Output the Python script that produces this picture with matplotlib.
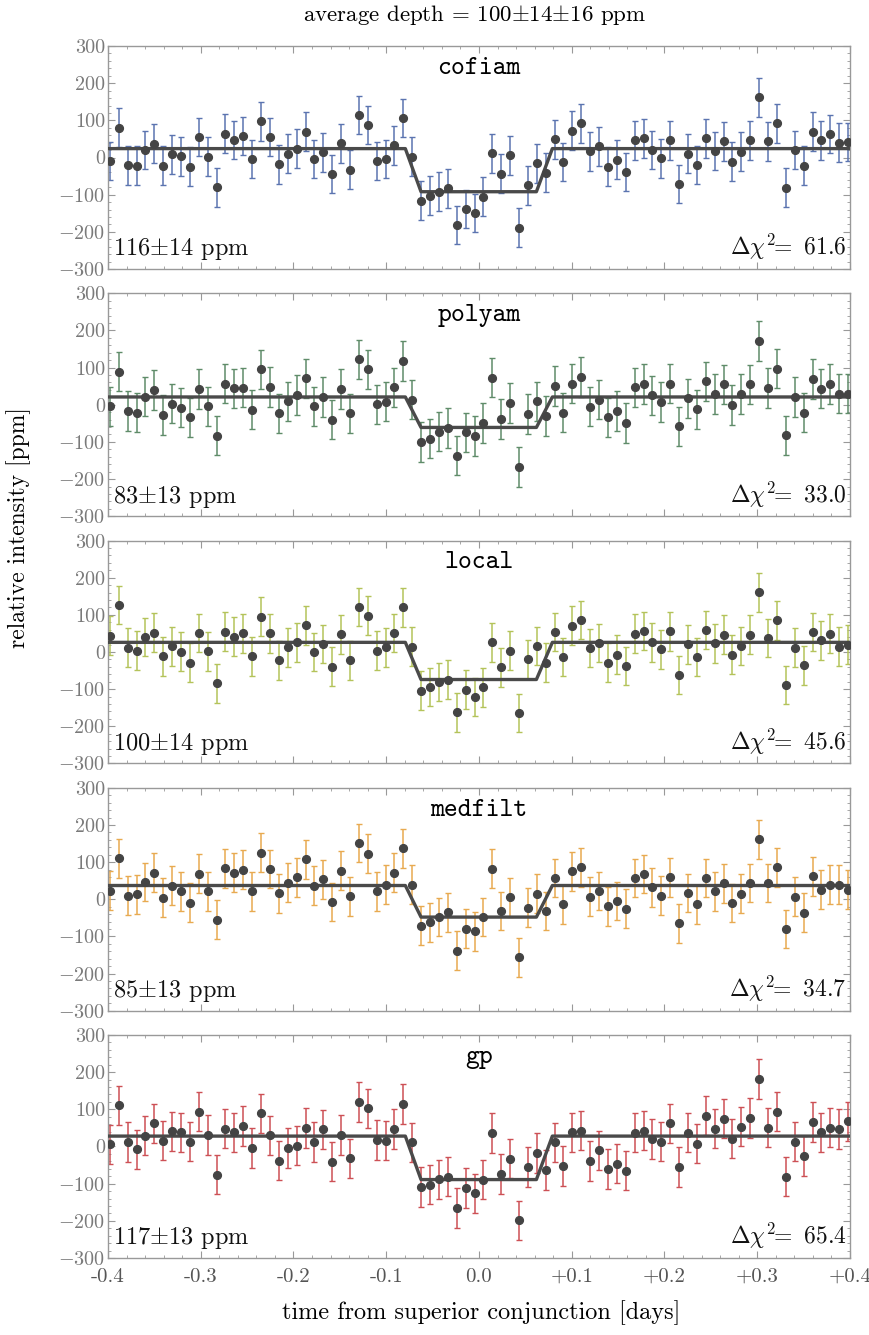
import matplotlib
matplotlib.use("Agg")
import matplotlib.pyplot as plt
from matplotlib.ticker import MultipleLocator, FixedLocator

plt.rcParams['mathtext.fontset'] = 'cm'
plt.rcParams['font.family'] = ['cmr10', 'DejaVu Serif']
plt.rcParams['axes.unicode_minus'] = False

# ---------------- data ----------------
time = [-0.3980, -0.3884, -0.3788, -0.3692, -0.3596, -0.3500, -0.3405, -0.3309, -0.3213, -0.3117,
        -0.3021, -0.2925, -0.2829, -0.2733, -0.2637, -0.2541, -0.2446, -0.2350, -0.2254, -0.2158,
        -0.2062, -0.1966, -0.1870, -0.1774, -0.1678, -0.1582, -0.1486, -0.1391, -0.1295, -0.1199,
        -0.1103, -0.1007, -0.0911, -0.0815, -0.0719, -0.0623, -0.0527, -0.0432, -0.0336, -0.0240,
        -0.0144, -0.0048, 0.0048, 0.0144, 0.0240, 0.0336, 0.0432, 0.0527, 0.0623, 0.0719,
        0.0815, 0.0911, 0.1007, 0.1103, 0.1199, 0.1295, 0.1391, 0.1486, 0.1582, 0.1678,
        0.1774, 0.1870, 0.1966, 0.2062, 0.2158, 0.2254, 0.2350, 0.2446, 0.2541, 0.2637,
        0.2733, 0.2829, 0.2925, 0.3021, 0.3117, 0.3213, 0.3309, 0.3405, 0.3500, 0.3596,
        0.3692, 0.3788, 0.3884, 0.3980]

cofiam = [-9, 80, -21, -22, 20, 37, -22, 9, 3, -25, 55, 2, -80, 64, 47, 58, -4, 97, 55, -18,
          10, 24, 70, -4, 14, -44, 38, -33, 114, 88, -9, -4, 33, 106, 2, -116, -103, -92, -83, -182,
          -139, -149, -105, 11, -43, 6, -189, -75, -16, -41, 49, -12, 72, 92, 17, 30, -25, -6, -39, 46,
          52, 20, -2, 46, -71, 10, -20, 52, 18, 44, -11, 16, 46, 162, 44, 92, -81, 20, -22, 70,
          46, 63, 40, 42]
polyam = [-4, 89, -17, -21, 22, 40, -28, 3, -8, -34, 42, -4, -83, 57, 44, 46, -13, 95, 48, -23,
          9, 26, 71, -4, 21, -40, 42, -23, 122, 95, 1, 8, 47, 118, 14, -100, -91, -72, -63, -137,
          -74, -84, -49, 73, -38, 5, -167, -25, 9, -30, 51, -21, 57, 75, -5, 14, -34, -17, -49, 47,
          56, 25, 7, 57, -58, 17, -12, 63, 29, 55, -1, 29, 55, 172, 45, 97, -82, 21, -21, 69,
          43, 56, 30, 30]
local = [44, 127, 12, 4, 40, 52, -12, 15, 1, -29, 51, 2, -84, 55, 41, 50, -12, 95, 50, -22,
         13, 26, 72, 0, 22, -39, 48, -22, 121, 98, 4, 13, 51, 120, 14, -104, -94, -81, -74, -162,
         -101, -121, -95, 26, -41, 4, -164, -20, 16, -29, 54, -13, 71, 86, 11, 24, -29, -7, -38, 49,
         57, 26, 7, 56, -62, 21, -13, 59, 23, 47, -7, 16, 47, 161, 38, 85, -89, 12, -36, 54,
         31, 49, 14, 20]
medfilt = [23, 110, 10, 13, 46, 72, 4, 37, 21, -9, 69, 21, -55, 83, 72, 80, 21, 125, 81, 16,
           45, 59, 107, 37, 54, -7, 77, 8, 151, 123, 21, 39, 72, 137, 39, -71, -62, -48, -35, -138,
           -79, -86, -48, 82, -32, 5, -156, -23, 15, -32, 57, -14, 75, 86, 7, 22, -19, -5, -25, 57,
           68, 32, 10, 59, -65, 17, -14, 57, 21, 43, -10, 15, 44, 161, 44, 86, -80, 7, -36, 62,
           26, 39, 39, 26]
gp = [6, 111, 12, -8, 29, 62, 16, 41, 38, 13, 94, 31, -76, 48, 38, 55, -4, 89, 30, -38,
      -4, 2, 50, 12, 46, -41, 31, -32, 120, 103, 18, 16, 47, 114, 11, -109, -103, -88, -81, -166,
      -112, -126, -89, 36, -74, -33, -199, -55, -17, -63, 11, -52, 38, 43, -39, -10, -61, -46, -65, 37,
      43, 20, 13, 62, -55, 37, 8, 83, 48, 75, 21, 53, 77, 182, 51, 94, -81, 13, -26, 66,
      38, 51, 47, 68]

methods = ['cofiam', 'polyam', 'local', 'medfilt', 'gp']
series = [cofiam, polyam, local, medfilt, gp]
errors = [52, 53, 52, 52, 53]
depth_labels = ['116$\\pm$14 ppm', '83$\\pm$13 ppm', '100$\\pm$14 ppm', '85$\\pm$13 ppm', '117$\\pm$13 ppm']
dchi2 = ['61.6', '33.0', '45.6', '34.7', '65.4']
baseline = [24, 21, 26, 37, 28]
intransit = [-92, -61, -74, -48, -89]
contacts = [-0.0794, -0.0625, 0.0619, 0.0791]
colors = ['#5b74b0', '#5f8c69', '#b4c35a', '#e8aa50', '#cd5055']

xticks = [-0.4, -0.3, -0.2, -0.1, 0.0, 0.1, 0.2, 0.3, 0.4]
xticklabels = ['-0.4', '-0.3', '-0.2', '-0.1', '0.0', '+0.1', '+0.2', '+0.3', '+0.4']
yticks = [-300, -200, -100, 0, 100, 200, 300]
yticklabels = ['$-300$', '$-200$', '$-100$', '0', '100', '200', '300']

# ---------------- figure ----------------
fig = plt.figure(figsize=(8.7, 13.35), dpi=100)
gs = fig.add_gridspec(5, 1, left=0.1241, right=0.977, top=0.9655, bottom=0.0577, hspace=0.109)

tick_gray = '#7a7a7a'
for i in range(5):
    ax = fig.add_subplot(gs[i])
    ax.errorbar(time, series[i], yerr=errors[i], fmt='none', ecolor=colors[i],
                elinewidth=1.1, capsize=2.0, capthick=1.0, zorder=2)
    ax.plot(time, series[i], 'o', color='#444444', markersize=5.6, zorder=4)
    mx = [-0.4, contacts[0], contacts[1], contacts[2], contacts[3], 0.4]
    my = [baseline[i], baseline[i], intransit[i], intransit[i], baseline[i], baseline[i]]
    ax.plot(mx, my, '-', color='#4a4a4a', lw=2.4, zorder=3, solid_joinstyle='round')

    ax.set_xlim(-0.4, 0.4)
    ax.set_ylim(-300, 300)
    ax.xaxis.set_major_locator(FixedLocator(xticks))
    ax.xaxis.set_minor_locator(MultipleLocator(0.02))
    ax.yaxis.set_major_locator(FixedLocator(yticks))
    ax.yaxis.set_minor_locator(MultipleLocator(20))
    ax.set_yticklabels(yticklabels)
    ax.tick_params(which='both', direction='in', top=True, right=True, color='#999999')
    ax.tick_params(which='major', length=5, width=0.8)
    ax.tick_params(which='minor', length=2.5, width=0.6)
    ax.tick_params(axis='y', labelsize=14.5, labelcolor=tick_gray, pad=2)
    if i == 4:
        ax.set_xticklabels(xticklabels)
        ax.tick_params(axis='x', labelsize=15, labelcolor='#555555', pad=7)
    else:
        ax.tick_params(axis='x', labelbottom=False)
    for s in ax.spines.values():
        s.set_color('#999999')
        s.set_linewidth(1.0)

    ax.text(0.5, 0.9, methods[i], transform=ax.transAxes, ha='center', va='center',
            family='cmtt10', fontsize=19, fontweight='bold', color='black')
    ax.text(0.007, 0.03, depth_labels[i], transform=ax.transAxes, ha='left', va='bottom',
            fontsize=17.5, color='#111111')
    ax.text(0.995, 0.03, '$\\Delta\\chi^2\\!\\!=$ ' + dchi2[i], transform=ax.transAxes,
            ha='right', va='bottom', fontsize=17, color='#111111')

fig.text(0.545, 0.989, 'average depth = 100$\\pm$14$\\pm$16 ppm', ha='center', va='center',
         fontsize=16.5)
fig.text(0.553, 0.0165, 'time from superior conjunction [days]', ha='center', va='center',
         fontsize=17.5)
fig.text(0.021, 0.605, 'relative intensity [ppm]', ha='center', va='center', rotation=90,
         fontsize=17)

fig.savefig('out.png', dpi=100)
